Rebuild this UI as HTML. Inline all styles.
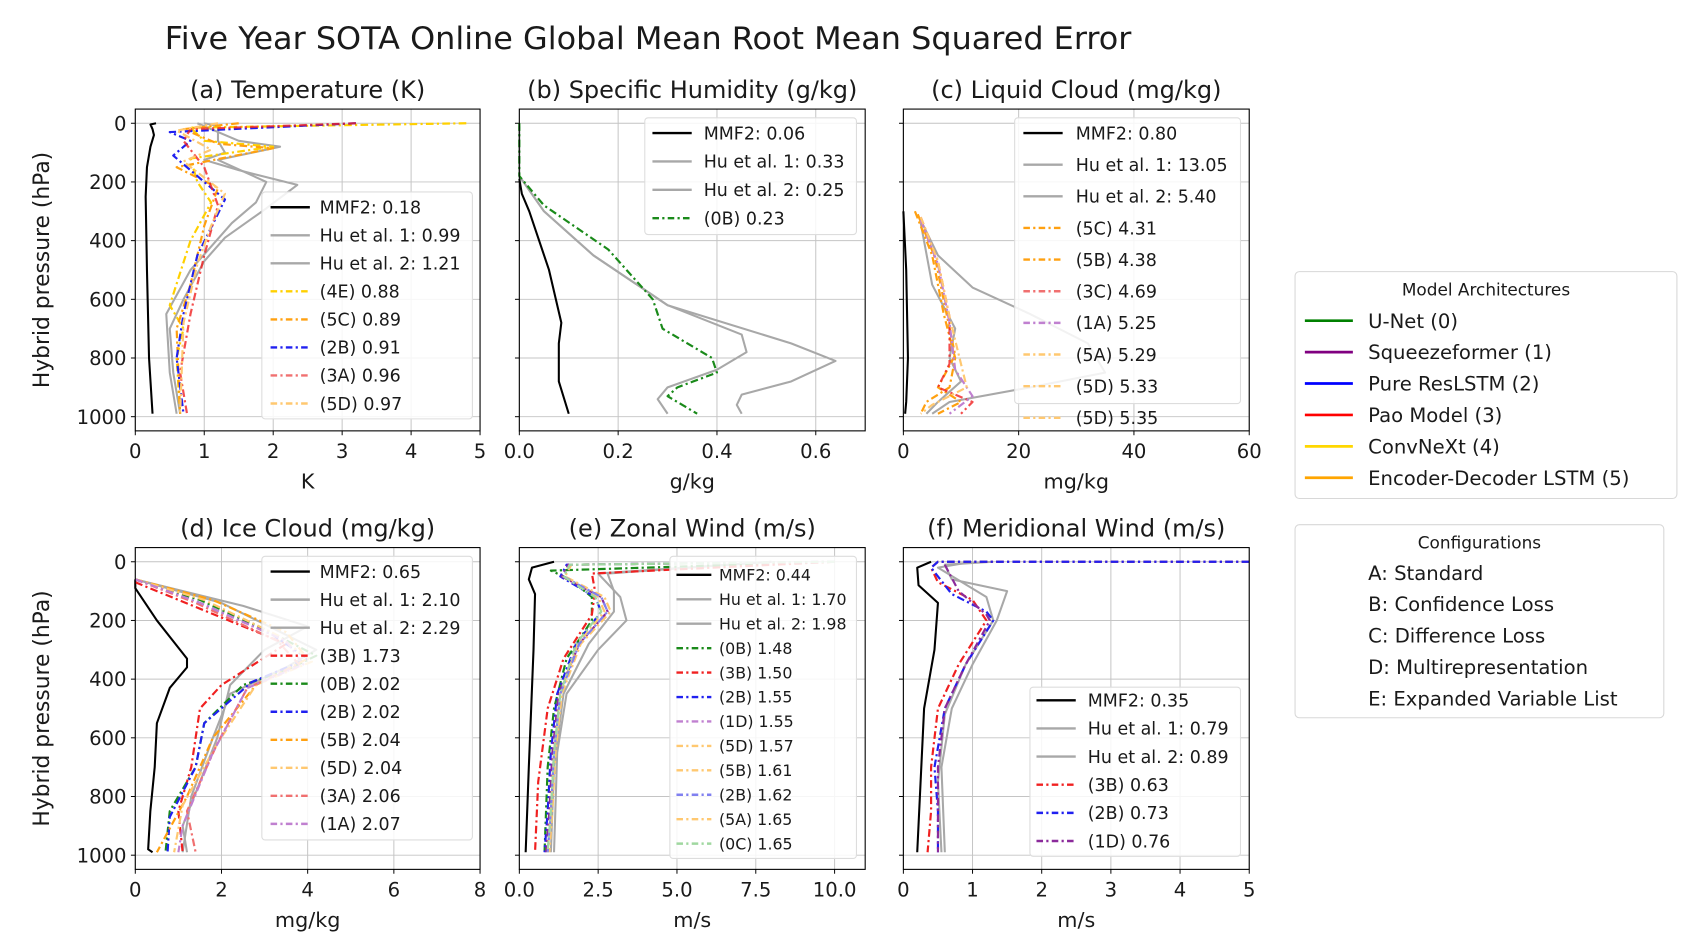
<!DOCTYPE html>
<html><head><meta charset="utf-8"><style>
html,body{margin:0;padding:0;background:#fff;width:1702px;height:949px;overflow:hidden}
svg{display:block}
text{font-family:"DejaVu Sans","Liberation Sans",sans-serif;fill:#1a1a1a}
</style></head><body>
<svg id="s" width="1702" height="949" viewBox="0 0 1560 870" preserveAspectRatio="none" xmlns="http://www.w3.org/2000/svg">
<rect width="1560" height="870" fill="#fff"/>
<text x="594" y="45" font-size="28.5" text-anchor="middle" textLength="886" lengthAdjust="spacingAndGlyphs">Five Year SOTA Online Global Mean Root Mean Squared Error</text>
</svg>
<script>
const S=document.getElementById('s');const NS='http://www.w3.org/2000/svg';
function el(t,a,txt){const e=document.createElementNS(NS,t);for(const k in a)e.setAttribute(k,a[k]);if(txt!==undefined)e.textContent=txt;S.appendChild(e);return e;}
const C={k:'#000',g:'#a8a8a8',g2:'#9a9a9a',gr:'#1a8a1a',pu:'#8b2a9b',bl:'#2020f0',rd:'#f02020',yl:'#ffd000',or:'#ffa010',lo:'#ffc870',lr:'#f07070',lb:'#8080f0',lp:'#c080d0',lg:'#a0d8a0'};
const DD='7,3,2,3';
function panel(o){
 const {x0,x1,top,bot,y0,y1,xmin,xmax,xt,xl,title,xlab,ylab}=o;
 for(const v of xt){const X=x0+(v-xmin)/(xmax-xmin)*(x1-x0);el('line',{x1:X,x2:X,y1:top,y2:bot,stroke:'#c4c4c4','stroke-width':0.9});el('line',{x1:X,x2:X,y1:bot,y2:bot+4,stroke:'#000','stroke-width':0.9});el('text',{x:X,y:bot+25,'font-size':18,'text-anchor':'middle'},xl(v));}
 for(let p=0;p<=1000;p+=200){const Y=y0+p/1000*(y1-y0);el('line',{x1:x0,x2:x1,y1:Y,y2:Y,stroke:'#c4c4c4','stroke-width':0.9});el('line',{x1:x0-4,x2:x0,y1:Y,y2:Y,stroke:'#000','stroke-width':0.9});if(ylab)el('text',{x:x0-8,y:Y+6.5,'font-size':18,'text-anchor':'end'},p);}
 el('text',{x:(x0+x1)/2,y:top-10,'font-size':22,'text-anchor':'middle'},title);
 el('text',{x:(x0+x1)/2,y:bot+53,'font-size':19,'text-anchor':'middle'},xlab);
 if(ylab)el('text',{x:0,y:0,'font-size':20,'text-anchor':'middle',transform:`translate(45,${(top+bot)/2}) rotate(-90)`},'Hybrid pressure (hPa)');
 o.series.forEach(s=>{const d=s[2].map((q,i)=>(i?'L':'M')+(x0+(Math.min(q[0],xmax*1.02)-xmin)/(xmax-xmin)*(x1-x0)).toFixed(1)+','+(y0+q[1]/1000*(y1-y0)).toFixed(1)).join('');
  el('path',{d,fill:'none',stroke:s[0],'stroke-width':s[1]=='-'?1.9:2,'stroke-dasharray':s[1]=='-'?'none':DD,'stroke-linejoin':'round',opacity:s[3]||1});});
 el('rect',{x:x0,y:top,width:x1-x0,height:bot-top,fill:'none',stroke:'#000','stroke-width':1});
}
function legend(o){const {x,y,w,h,ent,sp,fs,hx,hw,tx,first}=o;
 el('rect',{x,y,width:w,height:h,rx:3,fill:'#fff','fill-opacity':0.85,stroke:'#ddd','stroke-width':1});
 ent.forEach((e,i)=>{const Y=first+i*sp;if(e[0])el('line',{x1:hx,x2:hx+hw,y1:Y,y2:Y,stroke:e[0],'stroke-width':2.2,'stroke-dasharray':e[1]=='-'?'none':'6,3,2,3',opacity:e[3]||1});el('text',{x:tx,y:Y+fs*0.36,'font-size':fs},e[2]);});}
const R1={top:100,bot:395,y0:113,y1:382},R2={top:502,bot:797,y0:515,y1:784};
const ticksInt=n=>{const a=[];for(let i=0;i<=n;i++)a.push(i);return a;};
panel({...R1,x0:124,x1:440,xmin:0,xmax:5,xt:ticksInt(5),xl:v=>v,title:'(a) Temperature (K)',xlab:'K',ylab:1,series:[
[C.k,'-',[[0.3,0],[0.22,4],[0.25,20],[0.27,40],[0.22,80],[0.17,150],[0.15,250],[0.17,500],[0.2,800],[0.25,990]]],
[C.g,'-',[[1.0,0],[1.2,10],[1.2,60],[1.3,100],[1.0,125],[1.5,160],[2.35,210],[1.9,290],[1.3,390],[1.0,470],[0.7,600],[0.5,700],[0.55,850],[0.65,990]]],
[C.g,'-',[[0.9,0],[1.5,60],[2.1,80],[1.2,125],[1.9,200],[1.75,270],[1.4,340],[0.8,500],[0.45,650],[0.5,850],[0.6,990]]],
[C.yl,'.',[[4.8,0],[0.8,15],[1.0,60],[2.0,80],[0.8,120],[0.9,200],[1.1,270],[0.8,400],[0.5,620],[0.7,700],[0.6,800],[0.65,990]]],
[C.or,'.',[[1.5,0],[0.7,20],[1.2,70],[2.0,85],[0.6,150],[1.2,220],[1.0,350],[0.8,550],[0.6,700],[0.65,990]]],
[C.bl,'.',[[3.2,0],[0.5,30],[0.8,60],[0.55,110],[1.0,200],[1.3,260],[0.9,450],[0.7,650],[0.6,800],[0.7,990]]],
[C.rd,'.',[[3.2,0],[0.8,20],[0.7,60],[1.0,150],[1.2,280],[1.0,450],[0.8,650],[0.65,850],[0.75,990]],0.8],
[C.lo,'.',[[1.2,0],[0.6,25],[1.1,90],[0.7,130],[1.3,240],[1.1,350],[0.9,480],[0.7,680],[0.65,990]]]]});
legend({x:240,y:176,w:193,h:208,first:190,sp:25.7,fs:16,hx:248,hw:36,tx:293,ent:[[C.k,'-','MMF2: 0.18'],[C.g,'-','Hu et al. 1: 0.99'],[C.g,'-','Hu et al. 2: 1.21'],[C.yl,'.','(4E) 0.88'],[C.or,'.','(5C) 0.89'],[C.bl,'.','(2B) 0.91'],[C.lr,'.','(3A) 0.96'],[C.lo,'.','(5D) 0.97']]});
panel({...R1,x0:476,x1:793,xmin:0,xmax:0.7,xt:[0,0.2,0.4,0.6],xl:v=>v.toFixed(1),title:'(b) Specific Humidity (g/kg)',xlab:'g/kg',series:[
[C.k,'-',[[0,190],[0.005,240],[0.02,300],[0.06,500],[0.085,680],[0.08,750],[0.08,880],[0.1,990]]],
[C.g,'-',[[0,10],[0,180],[0.05,300],[0.15,450],[0.3,620],[0.55,750],[0.64,810],[0.55,880],[0.45,925],[0.44,960],[0.45,990]]],
[C.g,'-',[[0,180],[0.05,300],[0.15,450],[0.3,620],[0.45,720],[0.46,780],[0.4,840],[0.3,900],[0.28,940],[0.3,990]]],
[C.gr,'.',[[0,0],[0,180],[0.05,280],[0.18,430],[0.27,600],[0.29,700],[0.39,800],[0.4,850],[0.32,900],[0.3,930],[0.36,990]]]]});
legend({x:591,y:108,w:194,h:107,first:122,sp:26,fs:16,hx:598,hw:36,tx:645,ent:[[C.k,'-','MMF2: 0.06'],[C.g,'-','Hu et al. 1: 0.33'],[C.g,'-','Hu et al. 2: 0.25'],[C.gr,'.','(0B) 0.23']]});
panel({...R1,x0:828,x1:1145,xmin:0,xmax:60,xt:[0,20,40,60],xl:v=>v,title:'(c) Liquid Cloud (mg/kg)',xlab:'mg/kg',series:[
[C.k,'-',[[0,300],[0.5,500],[0.8,800],[0.5,950],[0.3,990]]],
[C.g,'-',[[3,330],[6,450],[12,560],[22,650],[32,750],[35,850],[22,900],[8,950],[5,990]]],
[C.g,'-',[[3,340],[5,550],[9,700],[8,800],[10,880],[6,950],[4,990]]],
[C.or,'.',[[2,300],[5,450],[7,650],[9,800],[8,900],[4,950],[3,990]]],
[C.or,'.',[[2.5,310],[5.5,460],[7.5,650],[9,790],[6,900],[10,950],[6,990]]],
[C.rd,'.',[[3,320],[6,470],[8,660],[8,820],[6,900],[12,950],[10,990]],0.8],
[C.lp,'.',[[3,330],[6,480],[8,680],[9,840],[12,930],[8,990]]],
[C.lo,'.',[[3,320],[6,470],[8,660],[10,820],[11,900],[5,960],[3,990]]]]});
legend({x:930,y:108,w:207,h:262,first:122,sp:29,fs:16,hx:938,hw:36,tx:986,ent:[[C.k,'-','MMF2: 0.80'],[C.g,'-','Hu et al. 1: 13.05'],[C.g,'-','Hu et al. 2: 5.40'],[C.or,'.','(5C) 4.31'],[C.or,'.','(5B) 4.38'],[C.lr,'.','(3C) 4.69'],[C.lp,'.','(1A) 5.25'],[C.lo,'.','(5A) 5.29'],[C.lo,'.','(5D) 5.33'],[C.lo,'.','(5D) 5.35']]});
panel({...R2,x0:124,x1:440,xmin:0,xmax:8,xt:[0,2,4,6,8],xl:v=>v,title:'(d) Ice Cloud (mg/kg)',xlab:'mg/kg',ylab:1,series:[
[C.k,'-',[[0,60],[0,90],[0.5,200],[1.2,330],[1.2,360],[0.8,430],[0.5,550],[0.45,700],[0.35,850],[0.3,980],[0.4,990]]],
[C.g,'-',[[0,60],[2.5,150],[4,220],[3,300],[2.2,420],[1.9,600],[1.5,750],[1.1,900],[1.2,990]]],
[C.g,'-',[[0,60],[2,140],[4.2,300],[3.5,360],[2.2,450],[1.8,600],[1.3,800],[1.1,990]]],
[C.rd,'.',[[0,70],[2,190],[3.5,280],[2,420],[1.5,500],[1.3,700],[1.0,850],[1.1,990]]],
[C.gr,'.',[[0,60],[1.5,130],[3,230],[4.2,320],[3.5,370],[2.5,420],[1.6,550],[1.4,700],[0.8,850],[0.7,990]]],
[C.bl,'.',[[0,60],[1.5,140],[3.2,250],[4,330],[2.7,410],[1.6,550],[1.4,700],[0.8,870],[0.75,990]]],
[C.or,'.',[[0,60],[1.8,130],[3.5,240],[4,330],[2.8,420],[1.8,600],[1.2,800],[0.5,990]]],
[C.lo,'.',[[0,60],[1.6,130],[3.3,250],[4.1,340],[2.8,420],[1.9,620],[1.1,830],[0.9,990]]],
[C.lr,'.',[[0,60],[1.4,140],[3.3,270],[3.8,350],[2.6,430],[1.9,620],[1.2,850],[1.4,990]]],
[C.lp,'.',[[0,60],[1.5,140],[3.5,270],[3.9,350],[2.6,430],[1.8,650],[1.1,900],[1.0,990]]]]});
legend({x:240,y:510,w:193,h:260,first:524,sp:25.7,fs:16,hx:248,hw:36,tx:293,ent:[[C.k,'-','MMF2: 0.65'],[C.g,'-','Hu et al. 1: 2.10'],[C.g,'-','Hu et al. 2: 2.29'],[C.rd,'.','(3B) 1.73'],[C.gr,'.','(0B) 2.02'],[C.bl,'.','(2B) 2.02'],[C.or,'.','(5B) 2.04'],[C.lo,'.','(5D) 2.04'],[C.lr,'.','(3A) 2.06'],[C.lp,'.','(1A) 2.07']]});
const eM=(a,o)=>[[10,0],[1.5+o,10],[1.3+o,50],[2.4+a,120],[2.6+a,170],[1.8+a*0.5,280],[1.2+o,450],[1.0+o,650],[0.9+o,850],[0.8+o,990]];
panel({...R2,x0:476,x1:793,xmin:0,xmax:10.97,xt:[0,2.5,5,7.5,10],xl:v=>v.toFixed(1),title:'(e) Zonal Wind (m/s)',xlab:'m/s',series:[
[C.k,'-',[[1.1,0],[0.4,20],[0.3,60],[0.5,110],[0.45,300],[0.3,700],[0.2,990]]],
[C.g,'-',[[8,0],[2.5,40],[3.2,120],[3.4,200],[2.5,300],[1.5,450],[1.2,650],[1.1,990]]],
[C.g,'-',[[8,0],[2.8,40],[3.0,100],[3.0,170],[2.2,280],[1.4,450],[1.1,700],[1.0,990]]],
[C.gr,'.',[[10,0],[1.0,30],[1.6,60],[2.3,120],[2.3,200],[1.5,330],[1.1,500],[0.9,700],[0.8,990]]],
[C.rd,'.',[[10,0],[2.3,40],[2.4,100],[2.3,180],[1.4,330],[0.9,500],[0.6,750],[0.5,990]]],
[C.bl,'.',eM(0,0)],[C.pu,'.',eM(0.2,0.05)],[C.lo,'.',eM(0.3,0.15)],[C.lo,'.',eM(0.1,0.1)],[C.lb,'.',eM(0.2,0.1)],[C.lg,'.',eM(0,0.1)]]});
legend({x:614,y:510,w:171,h:277,first:527,sp:22.4,fs:14.5,hx:620,hw:32,tx:659,ent:[[C.k,'-','MMF2: 0.44'],[C.g,'-','Hu et al. 1: 1.70'],[C.g,'-','Hu et al. 2: 1.98'],[C.gr,'.','(0B) 1.48'],[C.rd,'.','(3B) 1.50'],[C.bl,'.','(2B) 1.55'],[C.lp,'.','(1D) 1.55'],[C.lo,'.','(5D) 1.57'],[C.lo,'.','(5B) 1.61'],[C.lb,'.','(2B) 1.62'],[C.lo,'.','(5A) 1.65'],[C.lg,'.','(0C) 1.65']]});
panel({...R2,x0:828,x1:1145,xmin:0,xmax:5,xt:ticksInt(5),xl:v=>v,title:'(f) Meridional Wind (m/s)',xlab:'m/s',series:[
[C.k,'-',[[0.4,0],[0.2,20],[0.22,80],[0.5,140],[0.45,300],[0.3,500],[0.2,990]]],
[C.g,'-',[[1.3,0],[0.6,10],[0.7,60],[1.5,100],[1.35,200],[1.0,350],[0.7,500],[0.55,700],[0.6,990]]],
[C.g,'-',[[1.0,0],[0.5,20],[1.2,120],[1.3,200],[0.9,350],[0.6,520],[0.5,750],[0.55,990]]],
[C.rd,'.',[[5,0],[0.5,0],[0.4,20],[0.5,70],[1.0,130],[1.2,200],[0.8,350],[0.5,500],[0.4,700],[0.4,850],[0.35,990]]],
[C.bl,'.',[[5,0],[0.5,0],[0.4,20],[0.7,110],[1.2,170],[1.3,200],[0.9,350],[0.6,500],[0.45,700],[0.5,850],[0.5,990]]],
[C.pu,'.',[[0.6,10],[0.8,100],[1.2,180],[1.25,200],[0.9,350],[0.6,500],[0.5,700],[0.5,990]]]]});
legend({x:944,y:630,w:193,h:155,first:642,sp:25.8,fs:16,hx:950,hw:36,tx:997,ent:[[C.k,'-','MMF2: 0.35'],[C.g,'-','Hu et al. 1: 0.79'],[C.g,'-','Hu et al. 2: 0.89'],[C.rd,'.','(3B) 0.63'],[C.bl,'.','(2B) 0.73'],[C.pu,'.','(1D) 0.76']]});
el('rect',{x:1187,y:249,width:350,height:208,rx:4,fill:'#fff',stroke:'#d8d8d8','stroke-width':1});
el('text',{x:1362,y:271,'font-size':15.5,'text-anchor':'middle'},'Model Architectures');
[['#008000','U-Net (0)'],['#800080','Squeezeformer (1)'],['#0000ff','Pure ResLSTM (2)'],['#ff0000','Pao Model (3)'],['#ffd700','ConvNeXt (4)'],['#ffa500','Encoder-Decoder LSTM (5)']].forEach((e,i)=>{const Y=294+i*28.8;el('line',{x1:1196,x2:1240,y1:Y,y2:Y,stroke:e[0],'stroke-width':2.5});el('text',{x:1254,y:Y+6.5,'font-size':18},e[1]);});
el('rect',{x:1187,y:481,width:338,height:177,rx:4,fill:'#fff',stroke:'#d8d8d8','stroke-width':1});
el('text',{x:1356,y:503,'font-size':15.5,'text-anchor':'middle'},'Configurations');
['A: Standard','B: Confidence Loss','C: Difference Loss','D: Multirepresentation','E: Expanded Variable List'].forEach((t,i)=>el('text',{x:1254,y:531.5+i*28.8,'font-size':18},t));
</script>
</body></html>
